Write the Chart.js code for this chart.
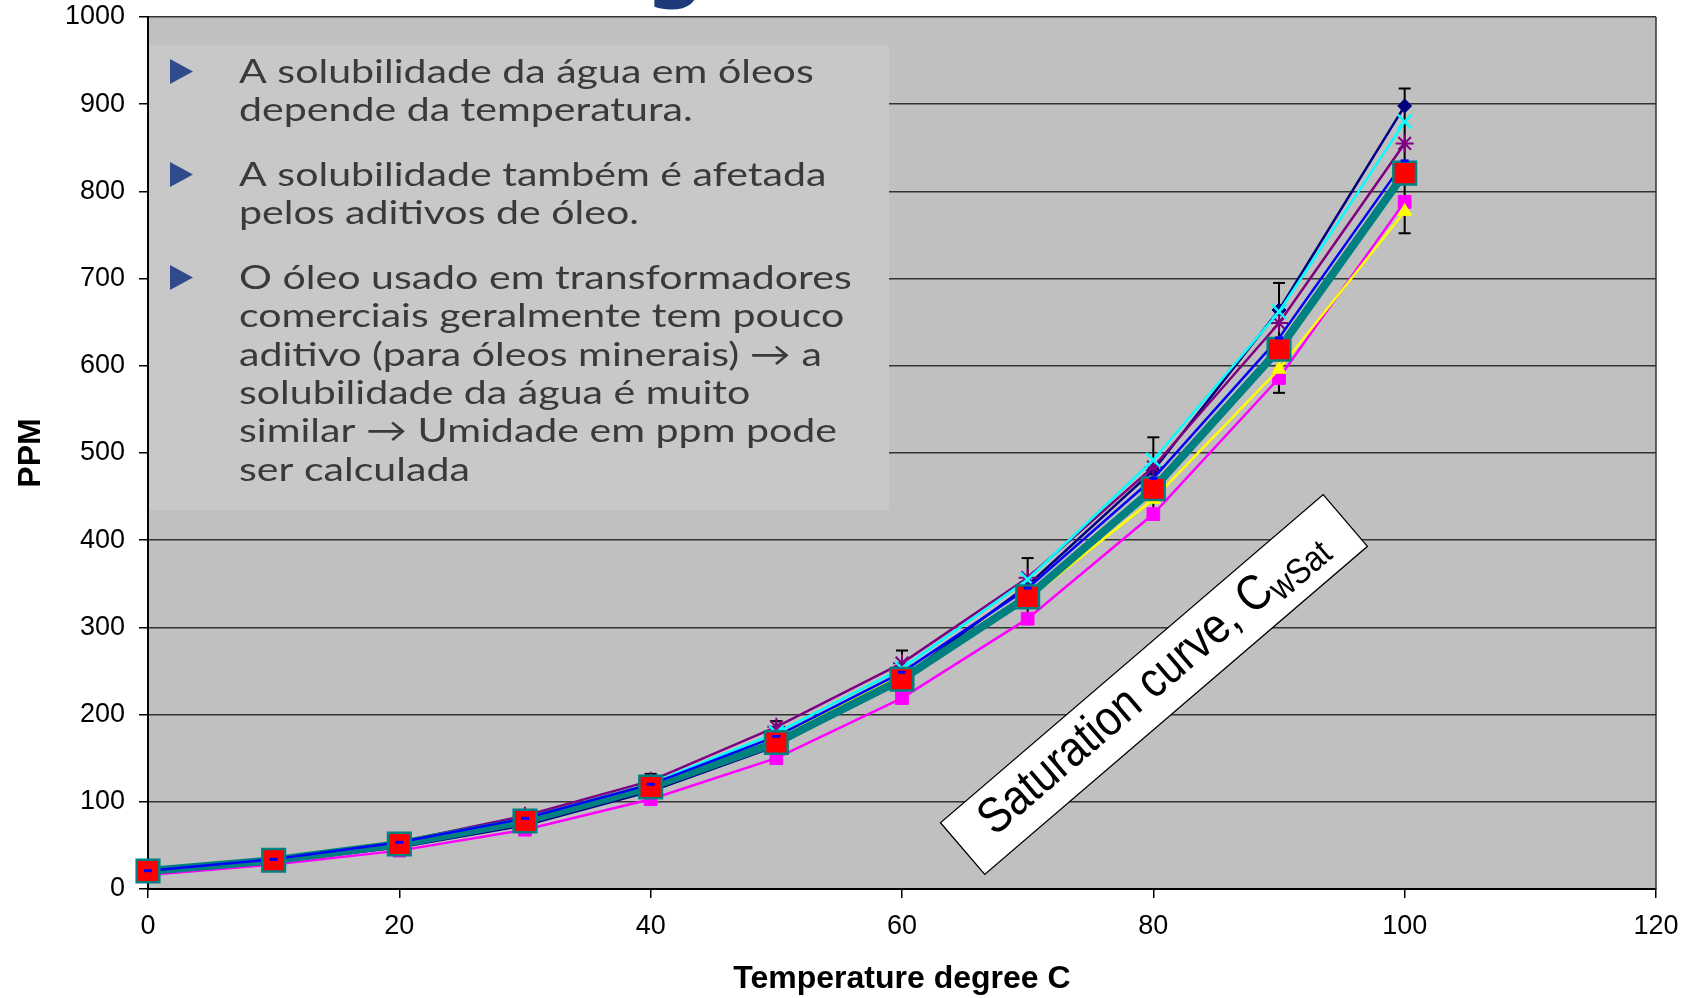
<!DOCTYPE html>
<html><head><meta charset="utf-8">
<script src="https://cdn.jsdelivr.net/npm/chart.js@4.4.1/dist/chart.umd.min.js"></script>
<style>html,body{margin:0;padding:0;background:#fff;overflow:hidden}</style>
</head><body>
<canvas id="c" width="1683" height="998" style="display:block;width:1683px;height:998px"></canvas>
<script>
// ---- data ----
const temperatures  = [0, 10, 20, 30, 40, 50, 60, 70, 80, 90, 100];
const navySeries    = [19, 31, 48, 73, 112, 164, 242, 348, 480, 664, 898];
const cyanSeries    = [20, 32, 50, 77, 121, 179, 253, 355, 492, 662, 880];
const purpleSeries  = [21, 34, 54, 84, 124, 186, 259, 357, 484, 649, 855];
const blueSeries    = [21, 34, 53.5, 81, 120, 175, 248.5, 345, 471, 632, 835];
const blueErrors    = [2, 3.4, 5.4, 8, 12, 17.5, 25, 34.5, 47, 63, 83];
const tealSeries    = [20.6, 33, 51.6, 78, 117, 168, 240.5, 335, 459, 619, 821];
const yellowSeries  = [23, 35, 55, 80, 119, 173, 245, 332, 447, 596, 777];
const magentaSeries = [16, 28, 44, 68, 103, 150, 219, 310, 430, 586, 788];
const xTickValues   = [0, 20, 40, 60, 80, 100, 120];
const yTickValues   = [0, 100, 200, 300, 400, 500, 600, 700, 800, 900, 1000];
const xTitle = 'Temperature degree C';
const yTitle = 'PPM';
const bulletLines = [
  ['A solubilidade da água em óleos', 'depende da temperatura.'],
  ['A solubilidade também é afetada', 'pelos aditivos de óleo.'],
  ['O óleo usado em transformadores', 'comerciais geralmente tem pouco',
   'aditivo (para óleos minerais) \u2192 a', 'solubilidade da água é muito',
   'similar \u2192 Umidade em ppm pode', 'ser calculada']
];
const satLabelMain = 'Saturation curve, C';
const satLabelSub = 'wSat';

function fontAvailable(name) {
  const c = document.createElement('canvas').getContext('2d');
  const s = '1000 abcdefghijklmnopWM';
  c.font = '40px monospace'; const a = c.measureText(s).width;
  c.font = "40px '" + name + "', monospace"; const b = c.measureText(s).width;
  return Math.abs(a - b) > 0.5;
}
const narrow = fontAvailable('Liberation Sans Narrow');
const xTickFont = narrow ? {family: "'Liberation Sans Narrow'", size: 31} : {family: "'Liberation Sans', Arial, sans-serif", size: 27};
const xTickPad = narrow ? 10 : 12;

const pts = arr => temperatures.map((t, i) => ({x: t, y: arr[i]}));

function line(ctx, x1, y1, x2, y2) { ctx.beginPath(); ctx.moveTo(x1, y1); ctx.lineTo(x2, y2); ctx.stroke(); }

const decor = {
  id: 'decor',
  beforeDraw(chart) {
    const {ctx, chartArea: a} = chart;
    ctx.save();
    ctx.fillStyle = '#fff'; ctx.fillRect(0, 0, chart.width, chart.height);
    ctx.fillStyle = '#c0c0c0';
    ctx.fillRect(a.left, a.top, a.right - a.left, a.bottom - a.top);
    ctx.restore();
  },
  beforeDatasetsDraw(chart) {
    const {ctx, chartArea: a, scales: {x, y}} = chart;
    ctx.save();
    ctx.strokeStyle = '#333'; ctx.lineWidth = 1.5;
    line(ctx, a.right, a.top, a.right, a.bottom);

    // text box
    ctx.fillStyle = '#c8c8c8';
    ctx.fillRect(a.left + 1, 45, 889 - a.left - 1, 510 - 45);
    ctx.font = '32px Lato, "Open Sans", sans-serif';
    const w1 = ctx.measureText(bulletLines[0][0]).width;
    const w2 = ctx.measureText(bulletLines[2][1]).width;
    const sx = (571 + 609) / (w1 + w2);
    const firstBase = [83, 186, 289];
    const lh = 38.3;
    bulletLines.forEach((group, g) => {
      const b0 = firstBase[g];
      ctx.fillStyle = '#2f4b8c';
      ctx.beginPath();
      ctx.moveTo(170, b0 - 24); ctx.lineTo(193, b0 - 11.5); ctx.lineTo(170, b0 + 1); ctx.closePath(); ctx.fill();
      ctx.fillStyle = '#3a3a3a';
      ctx.textBaseline = 'alphabetic'; ctx.textAlign = 'left';
      group.forEach((t, k) => {
        ctx.save(); ctx.translate(239, b0 + k * lh); ctx.scale(sx, 1.05); ctx.fillText(t, 0, 0); ctx.restore();
      });
    });

    // error bars on blue series
    ctx.strokeStyle = '#000'; ctx.lineWidth = 2;
    temperatures.forEach((t, i) => {
      const px = x.getPixelForValue(t);
      const top = y.getPixelForValue(blueSeries[i] + blueErrors[i]);
      const bot = y.getPixelForValue(blueSeries[i] - blueErrors[i]);
      line(ctx, px, top, px, bot);
      line(ctx, px - 6, top, px + 6, top);
      line(ctx, px - 6, bot, px + 6, bot);
    });

    // saturation label
    const cx = x.getPixelForValue(80.05), cy = y.getPixelForValue(234.5);
    ctx.translate(cx, cy);
    ctx.rotate(-40.6 * Math.PI / 180);
    ctx.fillStyle = '#fff'; ctx.strokeStyle = '#000'; ctx.lineWidth = 1.3;
    ctx.fillRect(-252, -34, 504, 68); ctx.strokeRect(-252, -34, 504, 68);
    let fs = 42;
    ctx.font = fs + "px 'Liberation Sans', Arial, sans-serif";
    let mw = ctx.measureText(satLabelMain).width;
    ctx.font = (fs * 0.72) + "px 'Liberation Sans', Arial, sans-serif";
    let sw = ctx.measureText(satLabelSub).width;
    const k = 440 / (mw + sw);
    fs *= k; mw *= k; sw *= k;
    const x0 = -220;
    ctx.fillStyle = '#000'; ctx.textBaseline = 'alphabetic'; ctx.textAlign = 'left';
    ctx.translate(0, 12);
    ctx.scale(1, 1.15);
    ctx.font = fs + "px 'Liberation Sans', Arial, sans-serif";
    ctx.fillText(satLabelMain, x0, 0);
    ctx.font = (fs * 0.72) + "px 'Liberation Sans', Arial, sans-serif";
    ctx.fillText(satLabelSub, x0 + mw, 7);
    ctx.restore();
  },
  afterDraw(chart) {
    const {ctx} = chart;
    ctx.save();
    ctx.fillStyle = '#1f3a7a';
    ctx.font = "bold 84px 'DejaVu Sans', sans-serif";
    ctx.textAlign = 'center'; ctx.textBaseline = 'alphabetic';
    ctx.fillText('g', 675, -8);
    ctx.restore();
  }
};

const base = {tension: 0, clip: false, borderWidth: 2};
const datasets = [
  Object.assign({}, base, {label: 'blue markers', data: pts(blueSeries), showLine: false, order: 0,
    pointStyle: 'line', pointRadius: 4, pointBorderWidth: 3, pointBorderColor: '#0000ff', pointBackgroundColor: '#0000ff', borderColor: '#0000ff'}),
  Object.assign({}, base, {label: 'teal markers', data: pts(tealSeries), showLine: false, order: 1,
    pointStyle: 'rect', pointRadius: 16, pointBorderWidth: 2.5, pointBorderColor: '#008080', pointBackgroundColor: '#ff0000', borderColor: '#008080'}),
  Object.assign({}, base, {label: 'blue', data: pts(blueSeries), order: 2, borderColor: '#0000ff', borderWidth: 2.5, pointRadius: 0}),
  Object.assign({}, base, {label: 'teal', data: pts(tealSeries), order: 3, borderColor: '#008080', borderWidth: 8, pointRadius: 0}),
  Object.assign({}, base, {label: 'cyan', data: pts(cyanSeries), order: 4, borderColor: '#00ffff', borderWidth: 2.5,
    pointStyle: 'crossRot', pointRadius: 10, pointBorderWidth: 2.5, pointBorderColor: '#00ffff', pointBackgroundColor: '#00ffff'}),
  Object.assign({}, base, {label: 'purple', data: pts(purpleSeries), order: 5, borderColor: '#800080', borderWidth: 2.5,
    pointStyle: 'star', pointRadius: 9, pointBorderWidth: 2, pointBorderColor: '#800080', pointBackgroundColor: '#800080'}),
  Object.assign({}, base, {label: 'navy', data: pts(navySeries), order: 6, borderColor: '#000080', borderWidth: 2.5,
    pointStyle: 'rectRot', pointRadius: 7, pointBorderWidth: 1, pointBorderColor: '#000080', pointBackgroundColor: '#000080'}),
  Object.assign({}, base, {label: 'yellow', data: pts(yellowSeries), order: 7, borderColor: '#ffff00', borderWidth: 2.5,
    pointStyle: 'triangle', pointRadius: 8, pointBorderWidth: 1, pointBorderColor: '#ffff00', pointBackgroundColor: '#ffff00'}),
  Object.assign({}, base, {label: 'magenta', data: pts(magentaSeries), order: 8, borderColor: '#ff00ff', borderWidth: 2.5,
    pointStyle: 'rect', pointRadius: 9, pointBorderWidth: 1, pointBorderColor: '#ff00ff', pointBackgroundColor: '#ff00ff'})
];

new Chart(document.getElementById('c'), {
  type: 'line',
  data: {datasets},
  plugins: [decor],
  options: {
    responsive: false, animation: false, events: [], devicePixelRatio: 1,
    layout: {autoPadding: false, padding: {left: 0, top: 17, right: 27, bottom: 0}},
    plugins: {legend: {display: false}, tooltip: {enabled: false}},
    scales: {
      x: {
        type: 'linear', min: 0, max: 120,
        afterBuildTicks: s => { s.ticks = xTickValues.map(v => ({value: v})); },
        afterFit: s => { s.height = 109; s.paddingLeft = 0; s.paddingRight = 0; },
        grid: {drawOnChartArea: false, drawTicks: true, tickLength: 9, color: '#000', lineWidth: 1.5},
        border: {display: true, color: '#000', width: 2},
        ticks: {color: '#000', font: xTickFont, padding: xTickPad, maxRotation: 0, autoSkip: false,
          callback: v => String(v)},
        title: {display: true, text: xTitle, color: '#000', padding: {top: 0, bottom: 0},
          font: {family: "'Liberation Sans', Arial, sans-serif", size: 32, weight: 'bold'}}
      },
      y: {
        type: 'linear', min: 0, max: 1000,
        afterBuildTicks: s => { s.ticks = yTickValues.map(v => ({value: v})); },
        afterFit: s => { s.width = 148; s.paddingTop = 0; s.paddingBottom = 0; },
        grid: {color: '#333', lineWidth: 1.5, tickColor: '#000', tickLength: 9, drawTicks: true},
        border: {display: true, color: '#000', width: 2},
        ticks: {color: '#000', font: {family: "'Liberation Sans', Arial, sans-serif", size: 27}, padding: 14, autoSkip: false,
          callback: v => String(v)},
        title: {display: true, text: yTitle, color: '#000', padding: {top: 12, bottom: 0},
          font: {family: "'Liberation Sans', Arial, sans-serif", size: 32, weight: 'bold'}}
      }
    }
  }
});
</script>
</body></html>
